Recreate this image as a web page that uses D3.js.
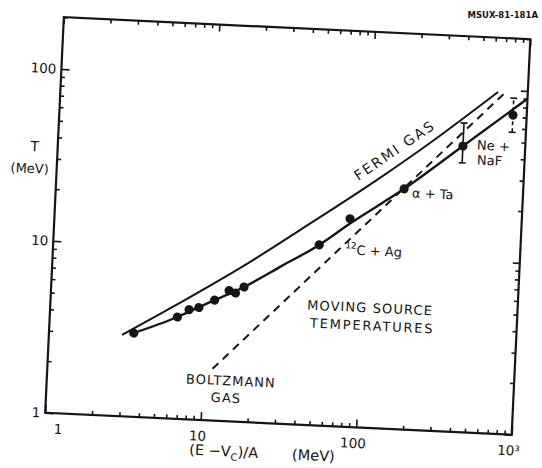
<!DOCTYPE html>
<html><head><meta charset="utf-8">
<script src="https://cdn.jsdelivr.net/npm/d3@7"></script>
<style>
html,body{margin:0;padding:0;background:#fff;}
svg{display:block;}
text{font-family:"DejaVu Sans",sans-serif;fill:#151515;}
</style></head><body>
<svg id="chart" width="542" height="468"></svg>
<script>
// ---- data ----
const pointE = [3.5, 6.6, 7.8, 9.0, 11.3, 13.9, 15.3, 17.3, 51, 79, 172, 398, 816];
const pointT = [3.07, 3.91, 4.35, 4.50, 5.02, 5.75, 5.59, 6.09, 11.2, 16.2, 25.0, 46.0, 71.8];
const fitE = [3.5, 6.6, 10, 17.3, 30, 51, 80, 172, 398, 1000];
const fitT = [3.07, 3.91, 4.75, 6.09, 8.3, 11.2, 15.3, 25.0, 46.0, 90];
const fermiE = [2.95, 5.63, 19.4, 38, 119.5, 244, 644];
const fermiT = [2.97, 4.26, 8.78, 13.5, 28.5, 46.9, 96.8];
const boltzE = [11.5, 720];
const boltzT = [2.0, 97];
const errE = [398, 816];
const errLow = [36.7, 57];
const errHigh = [62.6, 90];
const errDashed = [false, true];
const xMajor = [1, 10, 100, 1000];
const xMajorLabels = ["1", "10", "100", "10³"];
const yMajor = [1, 10, 100];
const yMajorLabels = ["1", "10", "100"];
const annoText = ["MOVING SOURCE", "TEMPERATURES", "BOLTZMANN", "GAS", "α + Ta", "Ne +", "NaF"];
const annoE = [113, 118, 15.2, 14.3, 194, 490, 495];
const annoT = [4.98, 3.92, 1.72, 1.366, 23.8, 47.0, 38.5];
const annoAnchor = ["middle", "middle", "middle", "middle", "start", "start", "start"];
const annoSpacing = [1.1, 1.8, 1.0, 1.0, 0, 0, 0];

// ---- layout ----
const L = 54.25, R = 521.25, TOP = 28, B = 424;
const ink = "#151515";
const svg = d3.select("#chart");
const x = d3.scaleLog().domain([1, 1000]).range([L, R]);
const y = d3.scaleLog().domain([1, 200]).range([B, TOP]);
const g = svg.append("g").attr("transform", "rotate(2.7,287.75,226)");

const xMinor = [], yMinor = [];
[1, 10, 100].forEach(d => { for (let k = 2; k <= 9; k++) xMinor.push(k * d); });
[1, 10].forEach(d => { for (let k = 2; k <= 9; k++) yMinor.push(k * d); });
yMinor.push(200);

function styleAxis(s) {
  s.select(".domain").remove();
  s.selectAll(".tick line").attr("stroke", ink).attr("stroke-width", 1.6);
  s.selectAll("text").attr("fill", ink).style("font-family", "DejaVu Sans, sans-serif");
}
// bottom
g.append("g").attr("transform", `translate(0,${B})`)
  .call(d3.axisBottom(x).tickValues(xMinor).tickSize(-4).tickFormat("")).call(styleAxis);
const xb = g.append("g").attr("transform", `translate(0,${B})`)
  .call(d3.axisBottom(x).tickValues(xMajor).tickSize(-8).tickPadding(11)
    .tickFormat((d, i) => xMajorLabels[i])).call(styleAxis);
xb.selectAll("text").attr("font-size", 13.5).attr("dx", (d, i) => i === 0 ? 13 : -3);
// top
g.append("g").attr("transform", `translate(0,${TOP})`)
  .call(d3.axisTop(x).tickValues(xMinor).tickSize(-4).tickFormat("")).call(styleAxis);
g.append("g").attr("transform", `translate(0,${TOP})`)
  .call(d3.axisTop(x).tickValues(xMajor).tickSize(-7).tickFormat("")).call(styleAxis);
// left
g.append("g").attr("transform", `translate(${L},0)`)
  .call(d3.axisLeft(y).tickValues(yMinor).tickSize(-4).tickFormat("")).call(styleAxis);
const yl = g.append("g").attr("transform", `translate(${L},0)`)
  .call(d3.axisLeft(y).tickValues(yMajor).tickSize(-8).tickPadding(5)
    .tickFormat((d, i) => yMajorLabels[i])).call(styleAxis);
yl.selectAll("text").attr("font-size", 13.5);
// right
g.append("g").attr("transform", `translate(${R},0)`)
  .call(d3.axisRight(y).tickValues(yMinor).tickSize(-4).tickFormat("")).call(styleAxis);
g.append("g").attr("transform", `translate(${R},0)`)
  .call(d3.axisRight(y).tickValues(yMajor).tickSize(-7).tickFormat("")).call(styleAxis);

// frame
g.append("rect").attr("x", L).attr("y", TOP).attr("width", R - L).attr("height", B - TOP)
  .attr("fill", "none").attr("stroke", ink).attr("stroke-width", 2.2);

// curves
const line = d3.line().x(d => x(d[0])).y(d => y(d[1])).curve(d3.curveMonotoneX);
g.append("path").datum(fermiE.map((e, i) => [e, fermiT[i]])).attr("d", line)
  .attr("fill", "none").attr("stroke", ink).attr("stroke-width", 2);
g.append("path").datum(fitE.map((e, i) => [e, fitT[i]])).attr("d", line)
  .attr("fill", "none").attr("stroke", ink).attr("stroke-width", 2.4);
g.append("path").datum(boltzE.map((e, i) => [e, boltzT[i]]))
  .attr("d", d3.line().x(d => x(d[0])).y(d => y(d[1])))
  .attr("fill", "none").attr("stroke", ink).attr("stroke-width", 2).attr("stroke-dasharray", "8,6");

// error bars
errE.forEach((e, i) => {
  const eg = g.append("g").attr("stroke", ink).attr("stroke-width", 1.6);
  eg.append("line").attr("x1", x(e)).attr("x2", x(e)).attr("y1", y(errLow[i])).attr("y2", y(errHigh[i]))
    .attr("stroke-dasharray", errDashed[i] ? "4,3" : null);
  [errLow[i], errHigh[i]].forEach(v => {
    eg.append("line").attr("x1", x(e) - 3.5).attr("x2", x(e) + 3.5).attr("y1", y(v)).attr("y2", y(v));
  });
});

// points
g.selectAll("circle.pt").data(pointE.map((e, i) => [e, pointT[i]])).join("circle")
  .attr("class", "pt").attr("cx", d => x(d[0])).attr("cy", d => y(d[1])).attr("r", 4.6).attr("fill", ink);

// annotations
annoText.forEach((t, i) => {
  g.append("text").attr("x", x(annoE[i])).attr("y", y(annoT[i])).attr("dy", "0.35em")
    .attr("text-anchor", annoAnchor[i]).attr("font-size", 13)
    .attr("letter-spacing", annoSpacing[i]).text(t);
});
const ca = g.append("text").attr("x", x(75)).attr("y", y(10.5)).attr("dy", "0.35em").attr("font-size", 13);
ca.append("tspan").attr("font-size", 9).attr("dy", "-0.3em").text("12");
ca.append("tspan").attr("dy", "0.45em").text("C + Ag");
g.append("text").attr("transform", `translate(${x(152)},${y(39.5)}) rotate(-37)`)
  .attr("text-anchor", "middle").attr("font-size", 14).attr("letter-spacing", 2).text("FERMI GAS");

// axis titles
g.append("text").attr("x", L - 23).attr("y", y(35)).attr("dy", "0.35em").attr("text-anchor", "middle")
  .attr("font-size", 14).text("T");
g.append("text").attr("x", L - 27).attr("y", y(26)).attr("dy", "0.35em").attr("text-anchor", "middle")
  .attr("font-size", 13).text("(MeV)");
const xt = g.append("text").attr("x", x(10) - 10).attr("y", B + 35).attr("font-size", 14.5);
xt.append("tspan").text("(E \u2212V");
xt.append("tspan").attr("font-size", 10).attr("dy", 4).text("C");
xt.append("tspan").attr("dy", -4).text(")/A");
xt.append("tspan").attr("dx", 34).text("(MeV)");

svg.append("text").attr("x", 538).attr("y", 18).attr("text-anchor", "end")
  .attr("font-size", 8.5).attr("font-weight", "bold").text("MSUX-81-181A");
</script>
</body></html>
